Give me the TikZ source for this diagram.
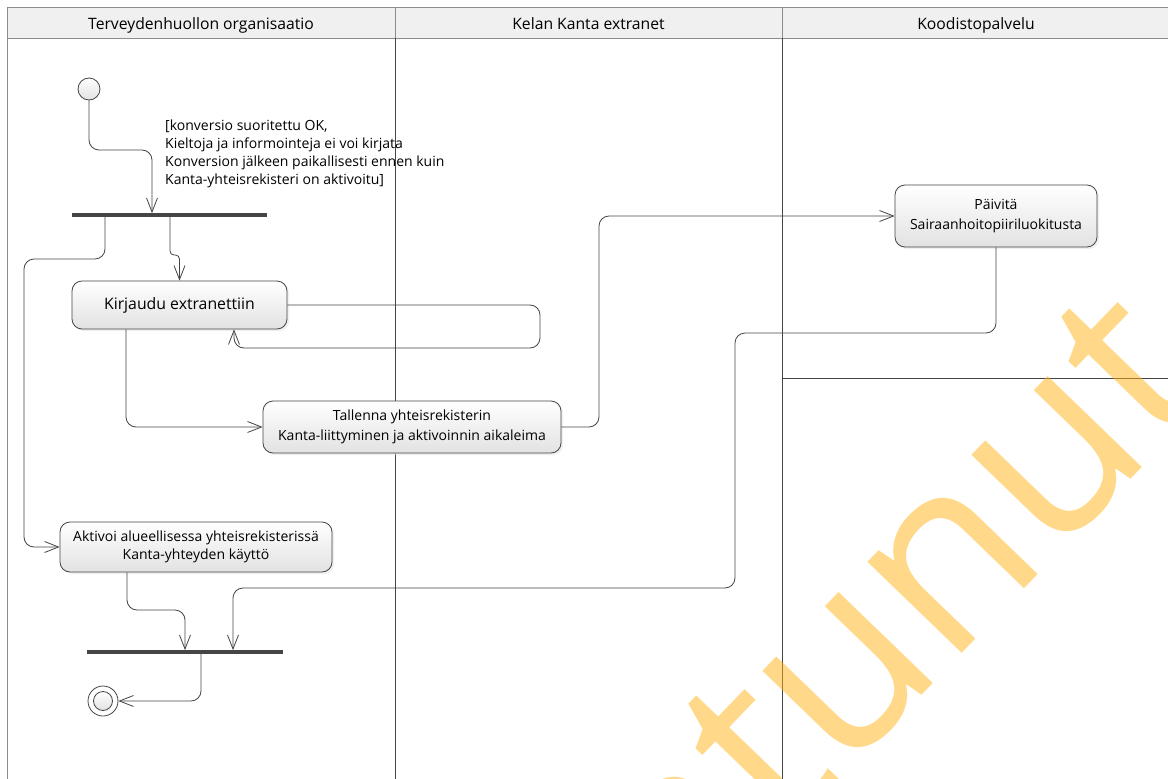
\documentclass[tikz,border=0pt]{standalone}
\usepackage{fontspec}
\setmainfont{Open Sans}
\usetikzlibrary{arrows.meta,shadows}

\definecolor{linedark}{HTML}{454545}
\definecolor{lanegray}{HTML}{8C8C8C}
\definecolor{headgray}{HTML}{F0F0F0}
\definecolor{boxgray}{HTML}{E2E2E2}
\definecolor{stampcol}{HTML}{FFB414}

\begin{document}
\begin{tikzpicture}[x=1pt,y=-1pt,
  lanehead/.style={draw=lanegray, fill=headgray, minimum height=31pt, inner sep=0pt, text height=15pt, text depth=1pt, font=\fontsize{15.7}{18}\selectfont},
  action/.style={draw=linedark, line width=0.8pt, rounded corners=10pt, top color=white, bottom color=boxgray, align=center, inner sep=0pt, font=\fontsize{14}{20}\selectfont, drop shadow={shadow xshift=2pt, shadow yshift=-2pt, fill=black!12}},
  bar/.style={fill=linedark, inner sep=0pt, minimum height=3.5pt},
  flow/.style={draw=linedark, line width=0.8pt, rounded corners=10pt, -{Straight Barb[length=14pt,width=11pt]}},
  lanerule/.style={draw=linedark, line width=0.8pt},
  stamp/.style={text=stampcol, text opacity=0.5, inner sep=0pt, font=\fontsize{245}{245}\selectfont}]
\useasboundingbox (0,0) rectangle (1168,779);
\fill[white] (0,0) rectangle (1168,779);
\clip (0,0) rectangle (1168,779);

% swimlanes
\node[lanehead, minimum width=388pt] (hdr1) at (201,22.5) {Terveydenhuollon organisaatio};
\node[lanehead, minimum width=387pt] (hdr2) at (588.5,22.5) {Kelan Kanta extranet};
\node[lanehead, minimum width=388pt] (hdr3) at (976,22.5) {Koodistopalvelu};
\draw[lanegray, line width=0.8pt] (7,38) -- (7,779);
\draw[lanerule] (395,38) -- (395,779);
\draw[lanerule] (782,38) -- (782,779);
\draw[lanerule] (782,378) -- (1170,378);

% nodes
\node[circle, draw=linedark, line width=0.8pt, top color=white, bottom color=boxgray, minimum size=22pt, inner sep=0pt] (start) at (89,89) {};
\node[anchor=west, align=left, inner sep=0pt, font=\fontsize{14}{18}\selectfont] (guard) at (165,154)
  {[konversio suoritettu OK,\\Kieltoja ja informointeja ei voi kirjata\\Konversion jälkeen paikallisesti ennen kuin\\Kanta-yhteisrekisteri on aktivoitu]};
\node[bar, minimum width=195pt] (fork1) at (169.5,215) {};
\node[action, minimum width=215pt, minimum height=48pt, font=\fontsize{15.8}{19}\selectfont] (kirjaudu) at (179.5,305) {Kirjaudu extranettiin};
\node[action, minimum width=298pt, minimum height=52pt] (tallenna) at (412,427) {Tallenna yhteisrekisterin\\Kanta-liittyminen ja aktivoinnin aikaleima};
\node[action, minimum width=202pt, minimum height=62pt] (paivita) at (996,216) {Päivitä\\Sairaanhoitopiiriluokitusta};
\node[action, minimum width=272pt, minimum height=50pt, font=\fontsize{14}{18.5}\selectfont] (aktivoi) at (196,547) {Aktivoi alueellisessa yhteisrekisterissä\\Kanta-yhteyden käyttö};
\node[bar, minimum width=196pt] (fork2) at (185,652) {};
\node[circle, draw=linedark, line width=0.8pt, fill=white, minimum size=30pt, inner sep=0pt] (finish) at (103,701) {};
\node[circle, draw=linedark, line width=0.8pt, top color=white, bottom color=boxgray, minimum size=19pt, inner sep=0pt] (finishdot) at (finish) {};

% flows
\draw[flow] (start.south) -- (89,150) -- (152,150) -- ([xshift=-17.5pt]fork1.north);
\draw[flow] ([xshift=-64.5pt]fork1.south) -- (105,259) -- (24,259) -- (24,547) -- (aktivoi.west);
\draw[flow, rounded corners=4pt] ([xshift=0.5pt]fork1.south) -- (170,255) -- (179.5,255) -- (kirjaudu.north);
\draw[flow] (kirjaudu.east) -- (540,305) -- (540,348) -- (234,348) -- (kirjaudu.south -| 234,0);
\draw[flow] (kirjaudu.south -| 126,0) -- (126,427) -- (tallenna.west);
\draw[flow] (tallenna.east) -- (599,427) -- (599,216) -- (paivita.west);
\draw[flow] (paivita.south) -- (996,333) -- (735,333) -- (735,588) -- (233,588) -- ([xshift=48pt]fork2.north);
\draw[flow] (aktivoi.south -| 127,0) -- (127,610) -- (185,610) -- (fork2.north);
\draw[flow] ([xshift=16pt]fork2.south) -- (201,701) -- (finish.east);

% watermark
\node[stamp, rotate=46, anchor=base west] (draftmark) at (783,839) {\llap{Vanhen}tunut};
\end{tikzpicture}
\end{document}
